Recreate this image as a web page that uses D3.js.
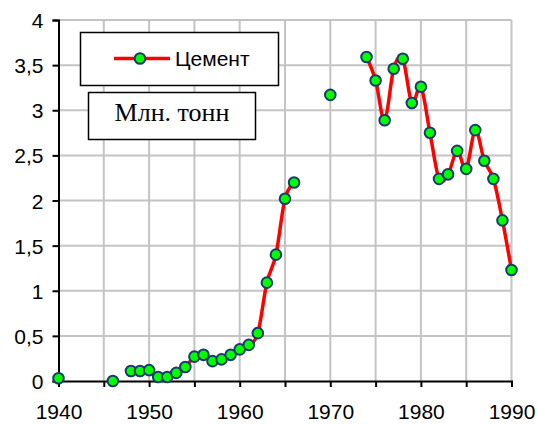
<!DOCTYPE html>
<html>
<head>
<meta charset="utf-8">
<script src="https://cdn.jsdelivr.net/npm/d3@7"></script>
<style>
  body { margin: 0; background: #fff; }
  svg { display: block; }
</style>
</head>
<body>
<script>
// cement production, mln tonnes
var years = [1940, 1946, 1948, 1949, 1950, 1951, 1952, 1953, 1954, 1955, 1956, 1957, 1958, 1959,
             1960, 1961, 1962, 1963, 1964, 1965, 1966, 1970, 1974, 1975, 1976, 1977, 1978, 1979,
             1980, 1981, 1982, 1983, 1984, 1985, 1986, 1987, 1988, 1989, 1990];
var values = [0.03, 0.0, 0.11, 0.11, 0.12, 0.045, 0.045, 0.09, 0.155, 0.27, 0.29, 0.22, 0.24, 0.29,
              0.35, 0.40, 0.53, 1.09, 1.40, 2.02, 2.20, 3.17, 3.59, 3.33, 2.89, 3.46, 3.57, 3.08,
              3.26, 2.75, 2.24, 2.29, 2.55, 2.35, 2.78, 2.44, 2.24, 1.78, 1.23];
var yTicks = [0, 0.5, 1, 1.5, 2, 2.5, 3, 3.5, 4];
var xGrid = [1940, 1945, 1950, 1955, 1960, 1965, 1970, 1975, 1980, 1985, 1990];
var xLabels = [1940, 1950, 1960, 1970, 1980, 1990];
var seriesName = "Цемент";
var unitLabel = "Млн. тонн";

var width = 538, height = 425;

var svg = d3.select("body").append("svg")
  .attr("width", width)
  .attr("height", height);

var x = d3.scaleLinear().domain([1940, 1990]).range([58.5, 511.5]);
var y = d3.scaleLinear().domain([0, 4]).range([381, 20]);

var fmt = function(d) { return String(d).replace(".", ","); };

// grid
svg.append("g").selectAll("line")
  .data(yTicks.filter(function(d) { return d > 0; }))
  .enter().append("line")
  .attr("x1", x(1940)).attr("x2", x(1990))
  .attr("y1", function(d) { return y(d); })
  .attr("y2", function(d) { return y(d); })
  .attr("stroke", "#c4c4c4").attr("stroke-width", 2);

svg.append("g").selectAll("line")
  .data(xGrid.filter(function(d) { return d > 1940; }))
  .enter().append("line")
  .attr("x1", function(d) { return x(d); })
  .attr("x2", function(d) { return x(d); })
  .attr("y1", y(4)).attr("y2", y(0))
  .attr("stroke", "#c4c4c4").attr("stroke-width", 2);

// axes
var yAxis = d3.axisLeft(y).tickValues(yTicks).tickSize(6).tickPadding(9).tickFormat(fmt);
var gy = svg.append("g").attr("transform", "translate(" + x(1940) + ",0)").call(yAxis);

var xAxis = d3.axisBottom(x).tickValues(xGrid).tickSize(6).tickPadding(17)
  .tickFormat(function(d) { return xLabels.indexOf(d) >= 0 ? d : ""; });
var gx = svg.append("g").attr("transform", "translate(0," + y(0) + ")").call(xAxis);

[gx, gy].forEach(function(g) {
  g.select(".domain").attr("stroke", "#000").attr("stroke-width", 2);
  g.selectAll(".tick line").attr("stroke", "#000").attr("stroke-width", 2);
  g.selectAll("text")
    .attr("fill", "#000")
    .style("font-family", "Arial, 'Liberation Sans', sans-serif")
    .style("font-size", "21px");
});
gy.selectAll("text").attr("dy", "0.36em");
gx.selectAll("text").attr("dy", "0.71em");

// line segments split at gaps in the years
var segments = [];
var cur = [];
years.forEach(function(yr, i) {
  if (cur.length && yr - years[i - 1] > 1) { segments.push(cur); cur = []; }
  cur.push({ year: yr, value: values[i] });
});
segments.push(cur);

var line = d3.line()
  .x(function(d) { return x(d.year); })
  .y(function(d) { return y(d.value); })
  .curve(d3.curveCardinal.tension(0));

svg.append("g").selectAll("path")
  .data(segments.filter(function(s) { return s.length > 1; }))
  .enter().append("path")
  .attr("d", line)
  .attr("fill", "none")
  .attr("stroke", "#ff0000")
  .attr("stroke-width", 3.5)
  .attr("stroke-linejoin", "round");

svg.append("g").selectAll("circle")
  .data(years)
  .enter().append("circle")
  .attr("cx", function(d) { return x(d); })
  .attr("cy", function(d, i) { return y(values[i]); })
  .attr("r", 5.3)
  .attr("fill", "#00ff00")
  .attr("stroke", "#1a3a6e")
  .attr("stroke-width", 2);

// legend
var lg = svg.append("g");
lg.append("rect")
  .attr("x", 80.5).attr("y", 32.5).attr("width", 198).attr("height", 53)
  .attr("fill", "#fff").attr("stroke", "#000").attr("stroke-width", 1.5);
lg.append("line")
  .attr("x1", 114).attr("x2", 170).attr("y1", 58.5).attr("y2", 58.5)
  .attr("stroke", "#ff0000").attr("stroke-width", 3.5);
lg.append("circle")
  .attr("cx", 140).attr("cy", 58.5).attr("r", 5.3)
  .attr("fill", "#00ff00").attr("stroke", "#1a3a6e").attr("stroke-width", 2);
lg.append("text")
  .attr("x", 175).attr("y", 66)
  .style("font-family", "Arial, 'Liberation Sans', sans-serif")
  .style("font-size", "21px")
  .text(seriesName);

// units box
svg.append("rect")
  .attr("x", 88.5).attr("y", 92.5).attr("width", 167).attr("height", 47)
  .attr("fill", "#fff").attr("stroke", "#000").attr("stroke-width", 1.5);
svg.append("text")
  .attr("x", 172).attr("y", 121)
  .attr("text-anchor", "middle")
  .style("font-family", "'Liberation Serif', 'Times New Roman', serif")
  .style("font-size", "26px")
  .text(unitLabel);
</script>
</body>
</html>
